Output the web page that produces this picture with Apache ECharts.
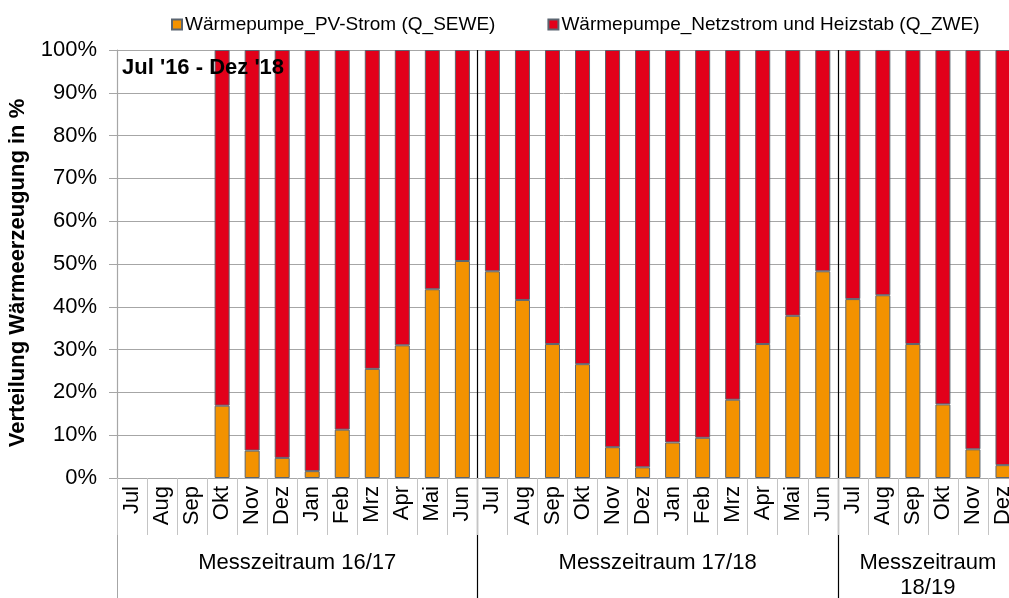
<!DOCTYPE html>
<html>
<head>
<meta charset="utf-8">
<script src="https://cdn.jsdelivr.net/npm/echarts@6/dist/echarts.min.js"></script>
<style>
  html, body { margin: 0; padding: 0; background: #fff; }
  #chart { width: 1009px; height: 598px; }
</style>
</head>
<body>
<div id="chart"></div>
<script>
// Monthly categories, three measurement periods (Jul '16 - Dez '18)
const months = [
  'Jul','Aug','Sep','Okt','Nov','Dez','Jan','Feb','Mrz','Apr','Mai','Jun',
  'Jul','Aug','Sep','Okt','Nov','Dez','Jan','Feb','Mrz','Apr','Mai','Jun',
  'Jul','Aug','Sep','Okt','Nov','Dez'
];
// Period labels and the month index at which each period starts
const periods = ['Messzeitraum 16/17', 'Messzeitraum 17/18', 'Messzeitraum\n18/19'];
const periodStarts = [0, 12, 24];
const periodCentres = [6, 18, 27];

// Share of heat produced by the heat pump from PV power, in %
const pvShare = [
  null, null, null, 16.9, 6.4, 4.7, 1.6, 11.3, 25.5, 31.0, 44.1, 50.7,
  48.3, 41.6, 31.3, 26.6, 7.2, 2.5, 8.3, 9.4, 18.3, 31.3, 37.9, 48.3,
  41.8, 42.7, 31.3, 17.2, 6.7, 3.0
];
// Remaining share: grid power and heating rod, in %
const gridShare = pvShare.map(v => (v === null ? null : +(100 - v).toFixed(1)));

const seriesNames = [
  'Wärmepumpe_PV-Strom (Q_SEWE)',
  'Wärmepumpe_Netzstrom und Heizstab (Q_ZWE)'
];
const yTicks = { min: 0, max: 100, interval: 10 };

const FONT = 'Liberation Sans, Arial, sans-serif';
const GRID_GREY = '#a6a6a6';
const BAR_BORDER = '#5b6570';

const chart = echarts.init(document.getElementById('chart'), null, { renderer: 'canvas' });

chart.setOption({
  animation: false,
  textStyle: { fontFamily: FONT, color: '#000' },
  legend: {
    left: 166,
    top: 10,
    itemWidth: 10,
    itemHeight: 10,
    itemGap: 52,
    icon: 'rect',
    textStyle: { fontFamily: FONT, fontSize: 19, color: '#000', padding: [0, 0, 0, -2] },
    data: seriesNames
  },
  // the last period runs past the right edge of the canvas
  grid: { left: 117, right: -9, top: 50, bottom: 120, containLabel: false, outerBoundsMode: 'none' },
  xAxis: [
    {
      type: 'category',
      data: months,
      position: 'bottom',
      boundaryGap: true,
      axisLine: { show: true, onZero: false, lineStyle: { color: GRID_GREY, width: 1 } },
      axisTick: { show: true, interval: 0, length: 57, lineStyle: { color: '#c4c4c4', width: 1 } },
      axisLabel: {
        interval: 0, rotate: 90, margin: 8,
        fontFamily: FONT, fontSize: 22, color: '#000'
      },
      splitLine: {
        show: true,
        interval: (index) => periodStarts.includes(index),
        lineStyle: { color: [GRID_GREY, '#000', '#000'], width: 1.2 }
      },
      z: 3
    },
    {
      // period boundaries reaching down through the label area
      type: 'category',
      data: months,
      position: 'bottom',
      boundaryGap: true,
      axisLine: { show: false, onZero: false },
      axisTick: {
        show: true,
        interval: (index) => index === 12 || index === 24,
        length: 120,
        lineStyle: { color: '#000', width: 1.2 }
      },
      axisLabel: { show: false },
      splitLine: { show: false }
    },
    {
      // period names centred under each period
      type: 'value',
      min: 0,
      max: months.length,
      position: 'bottom',
      axisLine: { show: false, onZero: false },
      axisTick: {
        show: true,
        customValues: [0],
        length: 120,
        lineStyle: { color: GRID_GREY, width: 1 }
      },
      axisLabel: {
        show: true,
        customValues: periodCentres,
        margin: 72,
        fontFamily: FONT,
        fontSize: 22,
        lineHeight: 25,
        color: '#000',
        formatter: (v) => periods[periodCentres.indexOf(v)] || ''
      },
      splitLine: { show: false }
    }
  ],
  yAxis: {
    type: 'value',
    min: yTicks.min,
    max: yTicks.max,
    interval: yTicks.interval,
    name: 'Verteilung Wärmeerzeugung in %',
    nameLocation: 'middle',
    nameGap: 88,
    nameTextStyle: {
      fontFamily: FONT, fontSize: 22, fontWeight: 'bold', color: '#000',
      padding: [0, 18, 0, 0]
    },
    axisLine: { show: true, lineStyle: { color: GRID_GREY, width: 1 } },
    axisTick: { show: true, length: 8, lineStyle: { color: GRID_GREY, width: 1 } },
    axisLabel: {
      margin: 20,
      fontFamily: FONT, fontSize: 22, color: '#000',
      formatter: '{value}%'
    },
    splitLine: { show: true, lineStyle: { color: GRID_GREY, width: 1 } }
  },
  series: [
    {
      name: seriesNames[0],
      type: 'bar',
      stack: 'share',
      barWidth: '50%',
      data: pvShare,
      itemStyle: { color: '#f39200', borderColor: BAR_BORDER, borderWidth: 1 }
    },
    {
      name: seriesNames[1],
      type: 'bar',
      stack: 'share',
      barWidth: '50%',
      data: gridShare,
      itemStyle: { color: '#e2001a', borderColor: BAR_BORDER, borderWidth: 1 }
    }
  ],
  graphic: [
    {
      type: 'text',
      left: 122,
      top: 57,
      z: 100,
      style: {
        text: "Jul '16 - Dez '18",
        fontFamily: FONT,
        fontSize: 22,
        fontWeight: 'bold',
        fill: '#000'
      }
    }
  ]
});
</script>
</body>
</html>
